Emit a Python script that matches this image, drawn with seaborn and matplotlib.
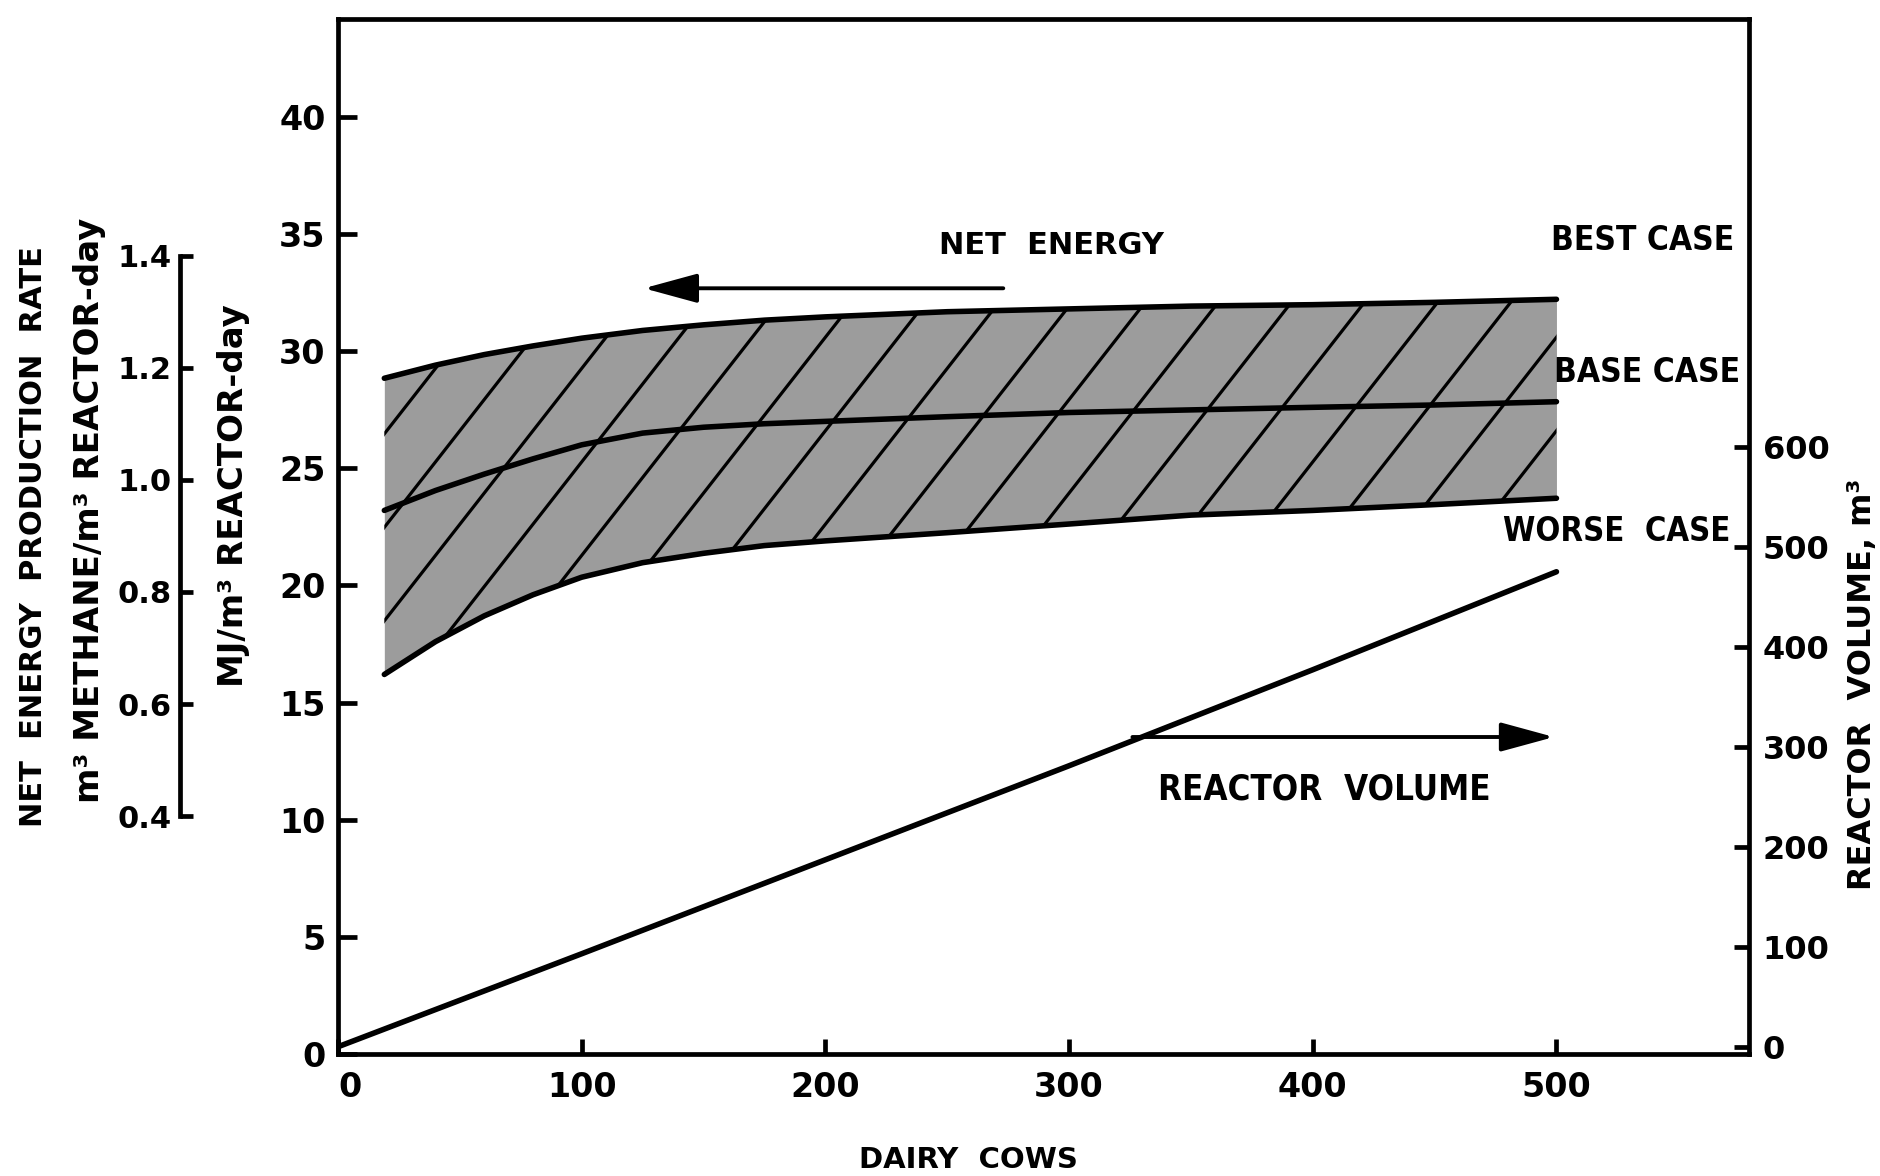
import numpy as np
import matplotlib
matplotlib.use("Agg")
import matplotlib.pyplot as plt
import matplotlib.transforms as mtransforms
import seaborn as sns

# Net energy production rate (MJ per m3 reactor-day) against herd size
cows = [19, 40, 60, 80, 100, 125, 150, 175, 200, 250, 300, 350, 400, 450, 500]
best_case = [28.84, 29.4, 29.85, 30.22, 30.55, 30.88, 31.12, 31.32, 31.46,
             31.68, 31.8, 31.92, 31.98, 32.08, 32.21]
base_case = [23.2, 24.05, 24.75, 25.4, 26.0, 26.5, 26.75, 26.9, 27.0,
             27.2, 27.38, 27.49, 27.6, 27.7, 27.84]
worse_case = [16.2, 17.6, 18.7, 19.6, 20.35, 20.97, 21.37, 21.7, 21.9,
              22.25, 22.62, 23.0, 23.2, 23.45, 23.72]

# Reactor volume (m3) against herd size
volume_cows = [0, 100, 200, 300, 400, 500]
reactor_volume = [0, 93, 187, 281, 377, 475]

# Axis ticks
cow_ticks = [0, 100, 200, 300, 400, 500]
energy_ticks = [0, 5, 10, 15, 20, 25, 30, 35, 40]
methane_ticks = [0.4, 0.6, 0.8, 1.0, 1.2, 1.4]
methane_labels = ["0.4", "0.6", "0.8", "1.0", "1.2", "1.4"]
volume_ticks = [0, 100, 200, 300, 400, 500, 600]

sns.set_theme(style="white")
plt.rcParams["font.family"] = ["DejaVu Sans"]
plt.rcParams["font.weight"] = "bold"

INK = "black"
SPINE_W = 3.4
CURVE_W = 4.0

W, H = 1880, 1176
fig = plt.figure(figsize=(W / 100, H / 100), dpi=100)
fig.patch.set_facecolor("white")
ax = fig.add_axes([0.1798, 0.1037, 0.7505, 0.8801])
ax.set_xlim(0, 579)
ax.set_ylim(0, 44.17)

# shaded band between worst and best case, with diagonal strokes
band = ax.fill_between(cows, worse_case, best_case, color="#9c9c9c", lw=0, zorder=1)
band_path = band.get_paths()[0]
slope = 0.133  # MJ per cow along the strokes
for x0 in np.arange(-240, 500, 30):
    xs = np.array([x0, x0 + 280.0])
    stroke, = ax.plot(xs, slope * (xs - x0), color=INK, lw=2.3, zorder=2)
    stroke.set_clip_path(band_path, ax.transData)

for series in (best_case, base_case, worse_case):
    sns.lineplot(x=cows, y=series, ax=ax, color=INK, lw=CURVE_W, zorder=3)

for side in ("left", "bottom", "top", "right"):
    ax.spines[side].set_visible(True)
    ax.spines[side].set_linewidth(SPINE_W)
    ax.spines[side].set_color(INK)

ax.set_xticks(cow_ticks)
ax.set_xticklabels([str(t) for t in cow_ticks])
ax.set_yticks(energy_ticks)
ax.set_yticklabels([str(t) for t in energy_ticks])
ax.tick_params(axis="x", direction="in", length=11, width=SPINE_W, labelsize=24,
               pad=12, colors=INK, bottom=True, top=False)
ax.tick_params(axis="y", direction="in", length=14, width=SPINE_W, labelsize=24,
               pad=9, colors=INK, left=True, right=False)
# nudge the corner "0" clear of the spine
zero_label = ax.xaxis.get_major_ticks()[0].label1
zero_label.set_transform(zero_label.get_transform()
                         + mtransforms.ScaledTranslation(12 / 100, 0, fig.dpi_scale_trans))

# reactor volume on the right-hand scale
ax2 = ax.twinx()
ax2.set_ylim(-7.3, 1027.7)
sns.lineplot(x=volume_cows, y=reactor_volume, ax=ax2, color=INK, lw=CURVE_W, zorder=3)
for side in ("left", "bottom", "top", "right"):
    ax2.spines[side].set_visible(False)
ax2.set_yticks(volume_ticks)
ax2.set_yticklabels([str(t) for t in volume_ticks])
ax2.tick_params(axis="y", direction="in", length=11, width=SPINE_W, labelsize=23,
                pad=10, colors=INK, right=True, left=False)

# methane-equivalent scale offset to the left
ax3 = ax.twinx()
ax3.set_ylim(-0.025, 1.823)
for side in ("top", "bottom", "right"):
    ax3.spines[side].set_visible(False)
ax3.spines["left"].set_visible(True)
ax3.spines["left"].set_position(("axes", -0.112))
ax3.spines["left"].set_bounds(0.4, 1.4)
ax3.spines["left"].set_linewidth(SPINE_W)
ax3.spines["left"].set_color(INK)
ax3.yaxis.tick_left()
ax3.set_yticks(methane_ticks)
ax3.set_yticklabels(methane_labels)
ax3.tick_params(axis="y", direction="in", length=9, width=SPINE_W, labelsize=22,
                pad=6, colors=INK, left=True, right=False)

# axis titles
def fig_label(x, y, s, size, rot=90):
    fig.text(x / W, 1 - y / H, s, rotation=rot, ha="center", va="center",
             fontsize=size, fontweight="bold", color=INK)

fig_label(34, 537, "NET  ENERGY  PRODUCTION  RATE", 22)
fig_label(90, 510, "m\u00b3 METHANE/m\u00b3 REACTOR-day", 24.5)
fig_label(234, 496, "MJ/m\u00b3 REACTOR-day", 24.5)
fig_label(1862, 684, "REACTOR  VOLUME, m\u00b3", 23)
fig_label(968, 1160, "DAIRY  COWS", 21, rot=0)

# annotations inside the plot
txt = dict(fontweight="bold", color=INK, zorder=5)
ax.text(292.6, 34.49, "NET  ENERGY", ha="center", va="center", fontsize=22, **txt)
ax.text(572.8, 34.74, "BEST CASE", ha="right", va="center", fontsize=24,
        fontstretch="condensed", **txt)
ax.text(575.3, 29.07, "BASE CASE", ha="right", va="center", fontsize=24,
        fontstretch="condensed", **txt)
ax.text(571.2, 22.28, "WORSE  CASE", ha="right", va="center", fontsize=23.5,
        fontstretch="condensed", **txt)
ax.text(404.8, 11.31, "REACTOR  VOLUME", ha="center", va="center", fontsize=25,
        fontstretch="condensed", **txt)

arrow = dict(arrowstyle="-|>,head_length=1.65,head_width=0.45", lw=2.8, color=INK,
             shrinkA=0, shrinkB=0, mutation_scale=20)
ax.annotate("", xy=(125.5, 32.68), xytext=(273.0, 32.68), arrowprops=arrow, zorder=5)
ax.annotate("", xy=(499.0, 13.53), xytext=(326.0, 13.53), arrowprops=arrow, zorder=5)

fig.savefig("out.png", dpi=100, facecolor="white")
